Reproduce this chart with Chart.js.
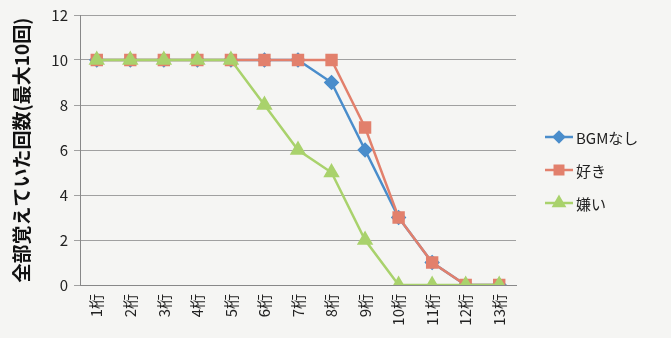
<!DOCTYPE html>
<html>
<head>
<meta charset="utf-8">
<script src="https://cdn.jsdelivr.net/npm/chart.js@4/dist/chart.umd.min.js"></script>
<style>
  html, body { margin: 0; padding: 0; background: #f5f5f3; }
  #wrap { width: 671px; height: 338px; position: relative; }
</style>
</head>
<body>
<div id="wrap"><canvas id="myChart" width="671" height="338"></canvas></div>
<script>
const labels = ["1桁","2桁","3桁","4桁","5桁","6桁","7桁","8桁","9桁","10桁","11桁","12桁","13桁"]
const bgmNone = [10,10,10,10,10,10,10,9,6,3,1,0,0]
const liked = [10,10,10,10,10,10,10,10,7,3,1,0,0]
const disliked = [10,10,10,10,10,8,6,5,2,0,0,0,0]
const yTicks = [0,2,4,6,8,10,12]

const font = "'Noto Sans CJK JP', 'Liberation Sans', sans-serif"

// legend drawn as line + marker like the original
const sideLegend = {
  id: 'sideLegend',
  afterDraw(chart) {
    const ctx = chart.ctx
    let y = 137
    chart.data.datasets.forEach(function(ds){
      ctx.save()
      ctx.strokeStyle = ds.borderColor
      ctx.lineWidth = 2.5
      ctx.beginPath()
      ctx.moveTo(545, y)
      ctx.lineTo(573, y)
      ctx.stroke()
      ctx.fillStyle = ds.pointBackgroundColor
      ctx.strokeStyle = ds.pointBackgroundColor
      Chart.helpers.drawPoint(ctx, {pointStyle: ds.pointStyle, radius: ds.pointRadius - 1, rotation: 0, borderWidth: 1}, 559, y)
      ctx.fillStyle = '#222'
      ctx.font = '15px ' + font
      ctx.textBaseline = 'middle'
      ctx.fillText(ds.label, 576, y + 1)
      ctx.restore()
      y += 33
    })
  }
}

const ctx = document.getElementById('myChart')
new Chart(ctx, {
  type: 'line',
  data: {
    labels: labels,
    datasets: [{
      label: 'BGMなし',
      data: bgmNone,
      borderColor: '#4a8dcb',
      backgroundColor: '#4a8dcb',
      pointBackgroundColor: '#4a8dcb',
      pointBorderColor: '#4a8dcb',
      pointStyle: 'rectRot',
      pointRadius: 6,
      borderWidth: 2.5,
      order: 3
    },
    {
      label: '好き',
      data: liked,
      borderColor: '#e2806c',
      backgroundColor: '#e2806c',
      pointBackgroundColor: '#e2806c',
      pointBorderColor: '#e2806c',
      pointStyle: 'rect',
      pointRadius: 7,
      borderWidth: 2.5,
      order: 2
    },
    {
      label: '嫌い',
      data: disliked,
      borderColor: '#a9d26c',
      backgroundColor: '#a9d26c',
      pointBackgroundColor: '#a9d26c',
      pointBorderColor: '#a9d26c',
      pointStyle: 'triangle',
      pointRadius: 7,
      borderWidth: 2.5,
      order: 1
    }]
  },
  options: {
    responsive: false,
    animation: false,
    layout: { padding: { left: 10, right: 155, top: 8, bottom: 0 } },
    elements: { line: { tension: 0 } },
    plugins: { legend: { display: false }, tooltip: { enabled: false } },
    scales: {
      x: {
        offset: true,
        grid: { display: false, drawTicks: false },
        border: { color: '#888', width: 1 },
        ticks: {
          color: '#222',
          font: { family: font, size: 15 },
          minRotation: 90,
          maxRotation: 90,
          autoSkip: false,
          padding: 9
        },
        afterFit(scale) { scale.height = 53 }
      },
      y: {
        min: 0,
        max: 12,
        afterBuildTicks(scale) { scale.ticks = yTicks.map(function(v){ return {value: v} }) },
        grid: { color: '#a0a0a0', lineWidth: 1, drawTicks: true, tickLength: 6 },
        border: { color: '#888', width: 1 },
        ticks: { color: '#222', font: { family: font, size: 15 }, padding: 6 },
        title: {
          display: true,
          text: '全部覚えていた回数(最大10回)',
          color: '#111',
          font: { family: font, size: 19, weight: 'bold' },
          padding: { top: 0, bottom: 0 }
        },
        afterFit(scale) { scale.width = 70 }
      }
    }
  },
  plugins: [sideLegend]
})
</script>
</body>
</html>
